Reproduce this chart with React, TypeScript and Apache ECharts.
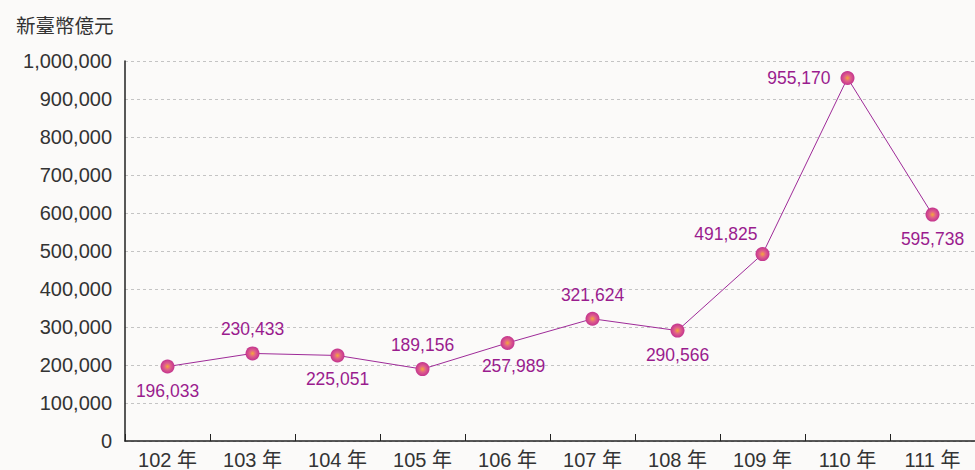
import React, { useEffect, useRef } from "react";
import * as echarts from "echarts";

const categories = ["102 年", "103 年", "104 年", "105 年", "106 年", "107 年", "108 年", "109 年", "110 年", "111 年"];
const values = [196033, 230433, 225051, 189156, 257989, 321624, 290566, 491825, 955170, 595738];
const labelPositions = ["bottom", "top", "bottom", "top", "bottom", "top", "bottom", "left", "left", "bottom"];
const unitTitle = "新臺幣億元";

export default function App() {
  const ref = useRef<HTMLDivElement>(null);
  useEffect(() => {
    const chart = echarts.init(ref.current!, null, { renderer: "svg" });
    const markerColor = new echarts.graphic.RadialGradient(0.5, 0.5, 0.5, [
      { offset: 0, color: "#f4a93a" },
      { offset: 0.45, color: "#e0608a" },
      { offset: 1, color: "#c3338f" },
    ]);
    const data = values.map((v, i) => {
      const pos = labelPositions[i];
      const label: any = { position: pos, distance: 8 };
      if (i === 7) {
        label.position = "left";
        label.offset = [10, -20];
      }
      if (i === 8) {
        label.distance = 10;
      }
      if (i === 4) {
        label.offset = [6, -1];
      }
      return { value: v, label };
    });
    chart.setOption({
      animation: false,
      backgroundColor: "#fbfaf9",
      textStyle: { fontFamily: "Liberation Sans, Arial, sans-serif" },
      title: {
        text: unitTitle,
        left: 11,
        top: 10,
        textStyle: { fontSize: 19.5, fontWeight: "normal", color: "#333", fontFamily: "Noto Sans CJK TC, sans-serif" },
      },
      grid: { left: 125, right: 0, top: 61, bottom: 28 },
      xAxis: {
        type: "category",
        data: categories,
        boundaryGap: true,
        axisLine: { lineStyle: { color: "#222", width: 1.5 } },
        axisTick: { show: true, inside: true, length: 7, lineStyle: { color: "#222" } },
        axisLabel: { color: "#333", fontSize: 20, margin: 9, fontFamily: "Liberation Sans, Noto Sans CJK TC, sans-serif" },
      },
      yAxis: {
        type: "value",
        min: 0,
        max: 1000000,
        interval: 100000,
        axisLine: { show: true, lineStyle: { color: "#222", width: 1.5 } },
        axisTick: { show: false },
        axisLabel: {
          color: "#333",
          fontSize: 20,
          margin: 13,
          formatter: (v: number) => v.toLocaleString("en-US"),
        },
        splitLine: { show: true, lineStyle: { color: "#c4c4c4", type: [3, 3], width: 1 } },
      },
      series: [
        {
          type: "line",
          data,
          symbol: "circle",
          symbolSize: 14,
          itemStyle: { color: markerColor, borderWidth: 0 },
          lineStyle: { color: "#9e2a98", width: 1 },
          label: {
            show: true,
            color: "#9a1c8e",
            fontSize: 17.5,
            formatter: (p: any) => Number(p.value).toLocaleString("en-US"),
          },
        },
      ],
    });
    return () => chart.dispose();
  }, []);
  return <div ref={ref} style={{ position: "fixed", left: 0, top: 0, width: 975, height: 470 }} />;
}
